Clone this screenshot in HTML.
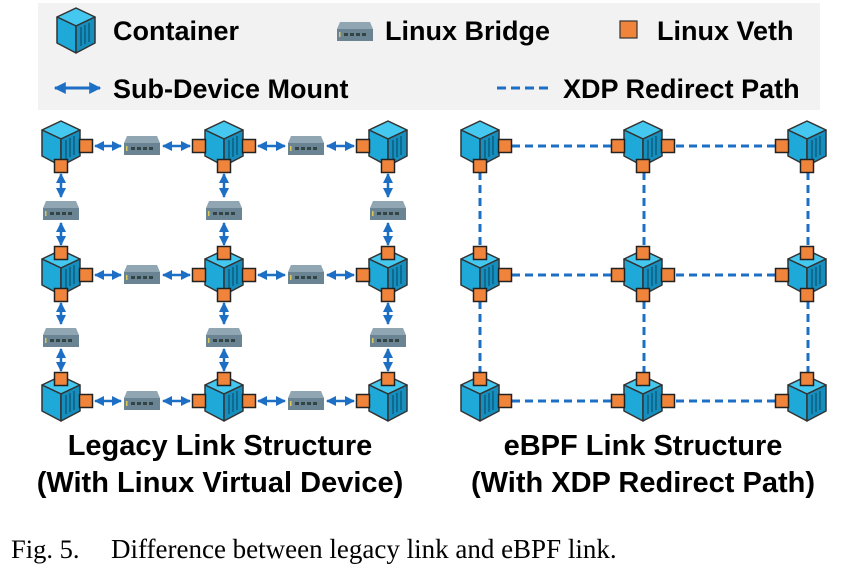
<!DOCTYPE html>
<html><head><meta charset="utf-8"><style>
body{margin:0;background:#fff;width:841px;height:571px;overflow:hidden}
svg text{font-family:"Liberation Sans",sans-serif;font-weight:bold;fill:#000}
</style></head><body>
<svg width="841" height="571" viewBox="0 0 841 571" xmlns="http://www.w3.org/2000/svg">
<defs>
<g id="cube">
<polygon points="0,-22 19,-13 0,-4 -19,-13" fill="#45c8ef" stroke="#333" stroke-width="1.5" stroke-linejoin="round"/>
<polygon points="-19,-13 0,-4 0,23 -19,13" fill="#1fa9d9" stroke="#333" stroke-width="1.5" stroke-linejoin="round"/>
<polygon points="0,-4 19,-13 19,13 0,23" fill="#168fbf" stroke="#333" stroke-width="1.5" stroke-linejoin="round"/>
<path d="M5,-3 V16 M9,-5 V14 M13,-7 V12" stroke="#0d5f80" stroke-width="1.5"/>
</g>
<g id="br">
<polygon points="-15,-10 15,-10 18,-3 -18,-3" fill="#91a6b3"/>
<rect x="-18" y="-3" width="36" height="12" fill="#6a8494"/>
<rect x="-11" y="1" width="4" height="3" fill="#344"/><rect x="-5" y="1" width="4" height="3" fill="#344"/><rect x="1" y="1" width="4" height="3" fill="#344"/><rect x="7" y="1" width="4" height="3" fill="#344"/>
<rect x="-16" y="0" width="1.5" height="5" fill="#d9c85a"/>
</g>
<rect id="v" x="-6.5" y="-6.5" width="13" height="13" fill="#f0843a" stroke="#222" stroke-width="1.5"/>
<marker id="ah" viewBox="0 0 10 10" refX="9" refY="5" markerWidth="4" markerHeight="4" orient="auto-start-reverse"><path d="M0,0 L10,5 L0,10 z" fill="#1c6fc4"/></marker>
</defs>

<rect x="38" y="3" width="782" height="107" fill="#f2f2f2"/>
<use href="#cube" transform="translate(76,30)"/>
<text x="113" y="40" font-size="27">Container</text>
<use href="#br" transform="translate(355,32)"/>
<text x="385" y="40" font-size="27">Linux Bridge</text>
<rect x="620" y="21" width="17" height="17" fill="#f0843a" stroke="#333" stroke-width="1.2"/>
<text x="657" y="40" font-size="27">Linux Veth</text>
<line x1="55" y1="88" x2="100" y2="88" stroke="#1c6fc4" stroke-width="3" marker-start="url(#ah)" marker-end="url(#ah)"/>
<text x="113" y="98" font-size="27">Sub-Device Mount</text>
<line x1="497" y1="88" x2="552" y2="88" stroke="#1c6fc4" stroke-width="3" stroke-dasharray="9,5"/>
<text x="563" y="98" font-size="27">XDP Redirect Path</text>

<g stroke="#1c6fc4" stroke-width="2.5" marker-start="url(#ah)" marker-end="url(#ah)">
<line x1="95" y1="146" x2="121" y2="146"/><line x1="163" y1="146" x2="190" y2="146"/>
<line x1="258" y1="146" x2="285" y2="146"/><line x1="327" y1="146" x2="354" y2="146"/>
<line x1="95" y1="275" x2="121" y2="275"/><line x1="163" y1="275" x2="190" y2="275"/>
<line x1="258" y1="275" x2="285" y2="275"/><line x1="327" y1="275" x2="354" y2="275"/>
<line x1="95" y1="401" x2="121" y2="401"/><line x1="163" y1="401" x2="190" y2="401"/>
<line x1="258" y1="401" x2="285" y2="401"/><line x1="327" y1="401" x2="354" y2="401"/>
<line x1="61" y1="174" x2="61" y2="197"/><line x1="61" y1="223" x2="61" y2="245"/>
<line x1="224" y1="174" x2="224" y2="197"/><line x1="224" y1="223" x2="224" y2="245"/>
<line x1="388" y1="174" x2="388" y2="197"/><line x1="388" y1="223" x2="388" y2="245"/>
<line x1="61" y1="303" x2="61" y2="324"/><line x1="61" y1="349" x2="61" y2="371"/>
<line x1="224" y1="303" x2="224" y2="324"/><line x1="224" y1="349" x2="224" y2="371"/>
<line x1="388" y1="303" x2="388" y2="324"/><line x1="388" y1="349" x2="388" y2="371"/>
</g>
<g>
<use href="#br" x="142" y="146"/><use href="#br" x="306" y="146"/>
<use href="#br" x="142" y="275"/><use href="#br" x="306" y="275"/>
<use href="#br" x="142" y="401"/><use href="#br" x="306" y="401"/>
<use href="#br" x="61" y="211"/><use href="#br" x="224" y="211"/><use href="#br" x="388" y="211"/>
<use href="#br" x="61" y="338"/><use href="#br" x="224" y="338"/><use href="#br" x="388" y="338"/>
</g>

<g stroke="#1c6fc4" stroke-width="3" stroke-dasharray="8,5" fill="none">
<line x1="512" y1="146" x2="612" y2="146"/><line x1="676" y1="146" x2="776" y2="146"/>
<line x1="512" y1="275" x2="612" y2="275"/><line x1="676" y1="275" x2="776" y2="275"/>
<line x1="512" y1="401" x2="612" y2="401"/><line x1="676" y1="401" x2="776" y2="401"/>
<line x1="480" y1="172" x2="480" y2="247"/><line x1="644" y1="172" x2="644" y2="247"/><line x1="808" y1="172" x2="808" y2="247"/>
<line x1="480" y1="301" x2="480" y2="373"/><line x1="644" y1="301" x2="644" y2="373"/><line x1="808" y1="301" x2="808" y2="373"/>
</g>

<g id="gridL">
<use href="#cube" x="61" y="143"/><use href="#cube" x="224" y="143"/><use href="#cube" x="388" y="143"/>
<use href="#cube" x="61" y="272"/><use href="#cube" x="224" y="272"/><use href="#cube" x="388" y="272"/>
<use href="#cube" x="61" y="398"/><use href="#cube" x="224" y="398"/><use href="#cube" x="388" y="398"/>
<use href="#v" x="86" y="146"/><use href="#v" x="61" y="166"/>
<use href="#v" x="199" y="146"/><use href="#v" x="249" y="146"/><use href="#v" x="224" y="166"/>
<use href="#v" x="363" y="146"/><use href="#v" x="388" y="166"/>
<use href="#v" x="61" y="253"/><use href="#v" x="86" y="275"/><use href="#v" x="61" y="295"/>
<use href="#v" x="224" y="253"/><use href="#v" x="199" y="275"/><use href="#v" x="249" y="275"/><use href="#v" x="224" y="295"/>
<use href="#v" x="388" y="253"/><use href="#v" x="363" y="275"/><use href="#v" x="388" y="295"/>
<use href="#v" x="61" y="379"/><use href="#v" x="86" y="401"/>
<use href="#v" x="224" y="379"/><use href="#v" x="199" y="401"/><use href="#v" x="249" y="401"/>
<use href="#v" x="388" y="379"/><use href="#v" x="363" y="401"/>
</g>
<use href="#gridL" x="419"/>

<text x="220" y="455" font-size="29" text-anchor="middle">Legacy Link Structure</text>
<text x="220" y="492" font-size="29" text-anchor="middle">(With Linux Virtual Device)</text>
<text x="643" y="455" font-size="29" text-anchor="middle">eBPF Link Structure</text>
<text x="643" y="492" font-size="29" text-anchor="middle">(With XDP Redirect Path)</text>
<text x="11" y="558" font-size="26.5" style="font-family:'Liberation Serif',serif;font-weight:normal">Fig. 5.</text>
<text x="111" y="558" font-size="27" style="font-family:'Liberation Serif',serif;font-weight:normal">Difference between legacy link and eBPF link.</text>
</svg>
</body></html>
